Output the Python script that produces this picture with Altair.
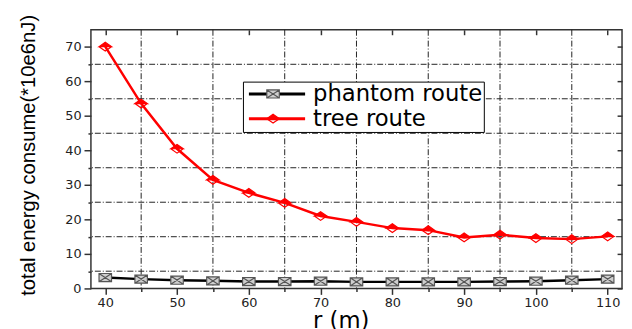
import altair as alt
import pandas as pd

# ---- data ----
r_values = [40, 45, 50, 55, 60, 65, 70, 75, 80, 85, 90, 95, 100, 105, 110]
phantom_route = [3.15, 2.7, 2.4, 2.2, 2.0, 2.0, 2.1, 1.9, 1.9, 1.9, 1.9, 2.0, 2.1, 2.4, 2.7]
tree_route = [70.1, 53.6, 40.5, 31.5, 27.7, 24.8, 21.0, 19.3, 17.5, 16.9, 14.8, 15.6, 14.6, 14.3, 15.1]
series_names = ["phantom route", "tree route"]

x_ticks = [40, 50, 60, 70, 80, 90, 100, 110]
x_grid = [45, 55, 65, 75, 85, 95, 105]
y_ticks = [0, 10, 20, 30, 40, 50, 60, 70]
y_grid = [5, 15, 25, 35, 45, 55, 65]

x_title = "r (m)"
y_title = "total energy consume(*10e6nJ)"

# ---- tables ----
rows = []
for r, v in zip(r_values, phantom_route):
    rows.append({"r": r, "energy": v, "series": series_names[0]})
for r, v in zip(r_values, tree_route):
    rows.append({"r": r, "energy": v, "series": series_names[1]})
df = pd.DataFrame(rows)
df["mk"] = df["series"]

FONT = "DejaVu Sans"
ARIAL = "Liberation Sans, Arial, sans-serif"
x_scale = alt.Scale(domain=[38, 112], nice=False, zero=False)
y_scale = alt.Scale(domain=[0, 75], nice=False, zero=False)
grid_dash = [6, 2, 1, 2]

sq_x = "M-1,-0.65L1,-0.65L1,0.65L-1,0.65Z M-1,-0.65L1,0.65 M-1,0.65L1,-0.65"
half_dia = "M-1,0L0,-0.7L1,0Z M-1,0L0,0.7L1,0L0,0.7Z"
legend_line = "M-4.5,0L4.5,0"

hgrid = alt.Chart(pd.DataFrame({"g": y_grid})).mark_rule(
    stroke="#222", strokeWidth=1, strokeDash=grid_dash
).encode(
    y=alt.Y("g:Q", scale=y_scale, axis=alt.Axis(
        orient="left", values=y_ticks, tickSize=7, tickWidth=1.5, tickColor="#333",
        labelPadding=3, labelFont=FONT, labelFontSize=13, labelColor="#222",
        domain=False, grid=False,
        title=y_title, titleAngle=270, titleAlign="left", titleBaseline="alphabetic",
        titleX=-57, titleY=269, titleFont=ARIAL, titleFontSize=20.5,
        titleFontWeight="normal", titleColor="black"))
)

vgrid = alt.Chart(pd.DataFrame({"g": x_grid})).mark_rule(
    stroke="#222", strokeWidth=1, strokeDash=grid_dash
).encode(
    x=alt.X("g:Q", scale=x_scale, axis=alt.Axis(
        orient="bottom", values=x_ticks, tickSize=6, tickWidth=1.5, tickColor="#333",
        labelPadding=2, labelFont=FONT, labelFontSize=13, labelColor="#222",
        domain=False, grid=False,
        title=x_title, titleX=253, titleY=40, titleAlign="center", titleBaseline="alphabetic",
        titleFont=FONT, titleFontSize=23, titleFontWeight="normal", titleColor="black"))
)

legend_common = dict(
    orient="none", legendX=154, legendY=52.5, padding=1, rowPadding=1,
    labelFont=FONT, labelFontSize=23, labelLimit=400, title=None, symbolSize=160,
)

lines = alt.Chart(df).mark_line(strokeWidth=2.5).encode(
    x=alt.X("r:Q", scale=x_scale, axis=alt.Axis(
        orient="top", values=x_ticks, offset=-5, tickSize=5, tickWidth=1.5,
        tickColor="#333", labels=False, domain=False, grid=False, title=None)),
    y=alt.Y("energy:Q", scale=y_scale, axis=alt.Axis(
        orient="right", values=y_ticks, offset=-5, tickSize=5, tickWidth=1.5,
        tickColor="#333", labels=False, domain=False, grid=False, title=None)),
    color=alt.Color("series:N", scale=alt.Scale(domain=series_names, range=["black", "red"]),
                    legend=alt.Legend(symbolType=legend_line, symbolStrokeWidth=3,
                                      symbolOffset=22, labelOffset=25,
                                      labelColor="black", strokeColor="black",
                                      fillColor="white", **legend_common)),
)

pt_legend = alt.Legend(symbolStrokeWidth=1.2, symbolOffset=18, labelOffset=25,
                       labelOpacity=0, **legend_common)

points = alt.Chart(df).mark_point(filled=True, size=160, strokeWidth=1.2, opacity=1).encode(
    x=alt.X("r:Q", scale=x_scale, axis=alt.Axis(
        orient="bottom", values=x_grid, tickSize=3, tickWidth=1.5, tickColor="#333",
        labels=False, domain=False, grid=False, title=None)),
    y=alt.Y("energy:Q", scale=y_scale, axis=alt.Axis(
        orient="left", values=y_grid, tickSize=3, tickWidth=1.5, tickColor="#333",
        labels=False, domain=False, grid=False, title=None)),
    shape=alt.Shape("mk:N", scale=alt.Scale(range=[sq_x, half_dia]), legend=pt_legend),
    fill=alt.Fill("mk:N", scale=alt.Scale(range=["#cfcfcf", "red"]), legend=pt_legend),
    stroke=alt.Stroke("mk:N", scale=alt.Scale(range=["#555555", "red"]), legend=pt_legend),
)

chart = alt.layer(hgrid, vgrid, lines, points).resolve_axis(
    x="independent", y="independent"
).properties(
    width=538, height=262,
    padding={"left": 84, "top": 20, "right": 2, "bottom": 39},
    autosize=alt.AutoSizeParams(type="none"),
    background="white",
).configure_view(stroke="#333", strokeWidth=1.5)

chart.save("out.html", embed_options={"renderer": "svg", "actions": False})
